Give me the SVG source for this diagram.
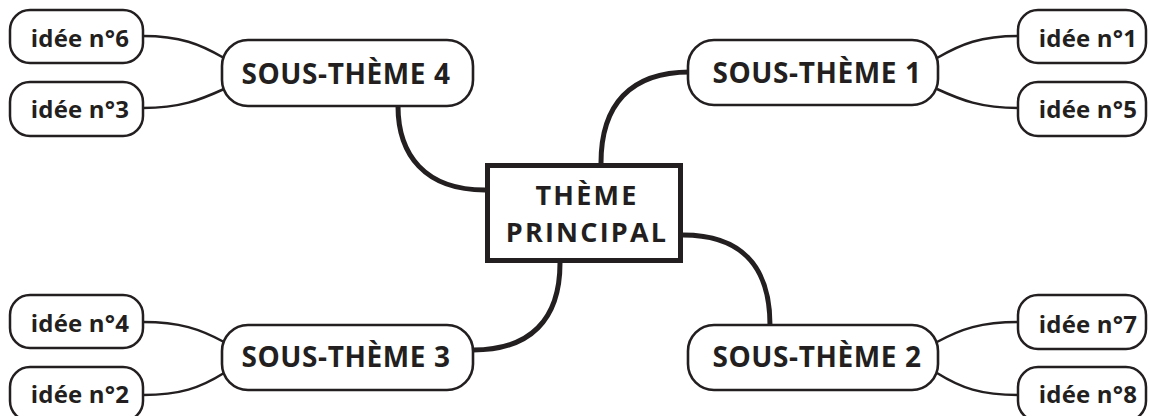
<svg xmlns="http://www.w3.org/2000/svg" width="1150" height="416" viewBox="0 0 1150 416">
  <style>
    .bg { fill: #ffffff; }
    .idea { fill: #ffffff; stroke: #231f20; stroke-width: 2.5; }
    .sub { fill: #ffffff; stroke: #231f20; stroke-width: 2.6; }
    .main { fill: #ffffff; stroke: #231f20; stroke-width: 5; }
    .thin { fill: none; stroke: #231f20; stroke-width: 2.5; }
    .thick { fill: none; stroke: #231f20; stroke-width: 5; }
    text { font-family: "Open Sans", "Liberation Sans", sans-serif; font-weight: 700; fill: #231f20; text-anchor: middle; }
    .t-idea { font-size: 24px; letter-spacing: 0.2px; }
    .t-sub { font-size: 28px; letter-spacing: 0.6px; }
    .t-main { font-size: 27px; letter-spacing: 2.2px; }
  </style>
  <rect class="bg" x="0" y="0" width="1150" height="416"/>

  <g id="connectors">
    <!-- main theme to sub-themes -->
    <path class="thick" d="M601,163 C601,105 630,72 690,72"/>
    <path class="thick" d="M485,190 C425,190 398,155 398,106"/>
    <path class="thick" d="M683,235 C740,235 770,265 770,325"/>
    <path class="thick" d="M560,263 C560,320 530,350 473,350"/>
    <!-- sub-themes to ideas -->
    <path class="thin" d="M143,36 C180,36 200,44 224,58"/>
    <path class="thin" d="M143,108 C180,108 200,100 224,89"/>
    <path class="thin" d="M1018,36 C981,36 961,44 937,58"/>
    <path class="thin" d="M1018,108 C981,108 961,100 937,89"/>
    <path class="thin" d="M143,322 C180,322 200,329 224,342"/>
    <path class="thin" d="M143,395 C180,395 200,388 224,373"/>
    <path class="thin" d="M1018,322 C981,322 961,329 937,342"/>
    <path class="thin" d="M1018,395 C981,395 961,388 937,373"/>
  </g>

  <g id="theme-principal">
    <rect class="main" x="487.5" y="165.5" width="193" height="95"/>
    <text class="t-main" x="587" y="205">THÈME</text>
    <text class="t-main" x="587" y="242">PRINCIPAL</text>
  </g>

  <g id="sous-theme-1">
    <rect class="sub" x="688" y="40" width="250" height="65" rx="26"/>
    <text class="t-sub" x="817" y="83">SOUS-THÈME 1</text>
  </g>
  <g id="sous-theme-2">
    <rect class="sub" x="688" y="325" width="250" height="65" rx="26"/>
    <text class="t-sub" x="817" y="367">SOUS-THÈME 2</text>
  </g>
  <g id="sous-theme-3">
    <rect class="sub" x="222" y="325" width="251" height="65" rx="26"/>
    <text class="t-sub" x="346" y="367">SOUS-THÈME 3</text>
  </g>
  <g id="sous-theme-4">
    <rect class="sub" x="222" y="40" width="251" height="66" rx="26"/>
    <text class="t-sub" x="346" y="84">SOUS-THÈME 4</text>
  </g>

  <g id="idee-1">
    <rect class="idea" x="1018" y="10" width="128" height="53" rx="20"/>
    <text class="t-idea" x="1088" y="47">idée n°1</text>
  </g>
  <g id="idee-5">
    <rect class="idea" x="1018" y="82" width="128" height="54" rx="20"/>
    <text class="t-idea" x="1088" y="118">idée n°5</text>
  </g>
  <g id="idee-6">
    <rect class="idea" x="10" y="10" width="133" height="53" rx="20"/>
    <text class="t-idea" x="80" y="47">idée n°6</text>
  </g>
  <g id="idee-3">
    <rect class="idea" x="10" y="82" width="133" height="54" rx="20"/>
    <text class="t-idea" x="80" y="118">idée n°3</text>
  </g>
  <g id="idee-4">
    <rect class="idea" x="10" y="295" width="133" height="53" rx="20"/>
    <text class="t-idea" x="80" y="332">idée n°4</text>
  </g>
  <g id="idee-2">
    <rect class="idea" x="10" y="367" width="133" height="54" rx="20"/>
    <text class="t-idea" x="80" y="403">idée n°2</text>
  </g>
  <g id="idee-7">
    <rect class="idea" x="1018" y="295" width="128" height="54" rx="20"/>
    <text class="t-idea" x="1088" y="333">idée n°7</text>
  </g>
  <g id="idee-8">
    <rect class="idea" x="1018" y="367" width="128" height="54" rx="20"/>
    <text class="t-idea" x="1088" y="403">idée n°8</text>
  </g>
</svg>
